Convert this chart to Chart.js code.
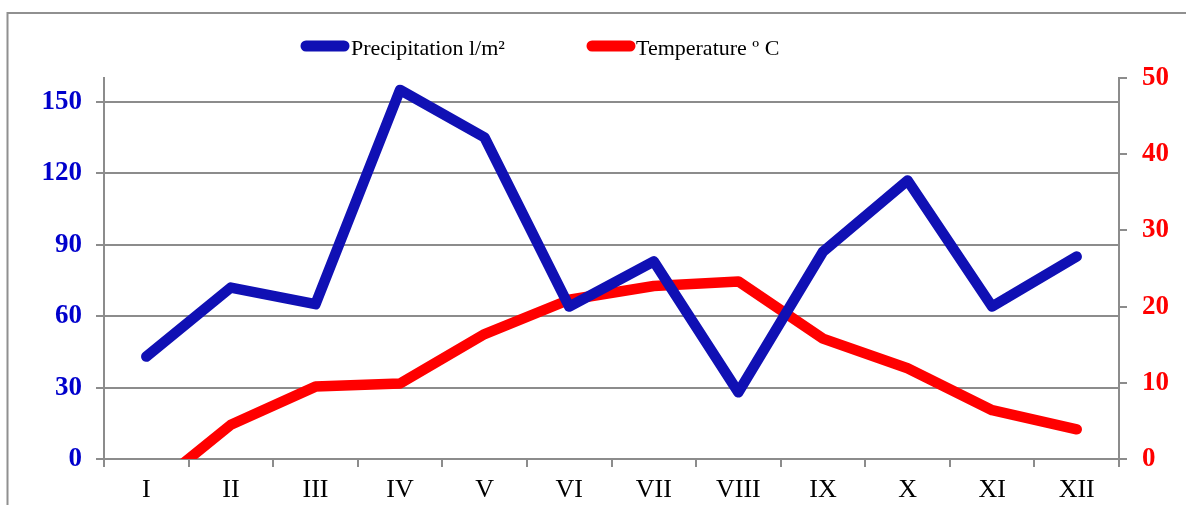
<!DOCTYPE html>
<html>
<head>
<meta charset="utf-8">
<script src="https://cdn.jsdelivr.net/npm/chart.js@4.4.1/dist/chart.umd.min.js"></script>
<style>
  html, body { margin: 0; padding: 0; background: #fff; }
  #wrap { width: 1186px; height: 505px; position: relative; }
</style>
</head>
<body>
<div id="wrap"><canvas id="c"></canvas></div>
<script>
const months = ['I', 'II', 'III', 'IV', 'V', 'VI', 'VII', 'VIII', 'IX', 'X', 'XI', 'XII'];
const precipitation = [43, 72, 65, 155, 135, 64, 83, 28, 87, 117, 64, 85];
const temperature = [-4.5, 4.5, 9.5, 9.9, 16.4, 20.9, 22.7, 23.3, 15.8, 11.9, 6.4, 3.9];
const seriesNames = ['Precipitation l/m²', 'Temperature º C'];
const leftTicks = [0, 30, 60, 90, 120, 150];
const rightTicks = [0, 10, 20, 30, 40, 50];

const GRAY = '#8c8c8c';
const BLUE = '#1010b4';
const RED = '#ff0000';
const SERIF = '"Liberation Serif", "Times New Roman", serif';

const frame = {
  id: 'frame',
  beforeDraw(chart) {
    const ctx = chart.ctx;
    ctx.save();
    ctx.strokeStyle = '#909090';
    ctx.lineWidth = 2;
    ctx.beginPath();
    ctx.moveTo(7.5, 505);
    ctx.lineTo(7.5, 13);
    ctx.lineTo(1186, 13);
    ctx.stroke();
    ctx.restore();
  }
};

const customLegend = {
  id: 'customLegend',
  afterDraw(chart) {
    const ctx = chart.ctx;
    const items = [
      { x: 301, tx: 351, color: BLUE, text: seriesNames[0] },
      { x: 587, tx: 636, color: RED, text: seriesNames[1] }
    ];
    ctx.save();
    ctx.font = '22px ' + SERIF;
    ctx.textBaseline = 'alphabetic';
    ctx.textAlign = 'left';
    items.forEach(it => {
      ctx.strokeStyle = it.color;
      ctx.lineWidth = 11;
      ctx.lineCap = 'round';
      ctx.beginPath();
      ctx.moveTo(it.x + 5, 46);
      ctx.lineTo(it.x + 43, 46);
      ctx.stroke();
      ctx.fillStyle = '#000';
      ctx.fillText(it.text, it.tx, 55);
    });
    ctx.restore();
  }
};

new Chart(document.getElementById('c'), {
  type: 'line',
  data: {
    labels: months,
    datasets: [
      {
        label: seriesNames[0],
        data: precipitation,
        yAxisID: 'y',
        borderColor: BLUE,
        backgroundColor: BLUE,
        borderWidth: 10.5,
        borderCapStyle: 'round',
        borderJoinStyle: 'round',
        pointRadius: 0,
        tension: 0,
        clip: 0
      },
      {
        label: seriesNames[1],
        data: temperature,
        yAxisID: 'y1',
        borderColor: RED,
        backgroundColor: RED,
        borderWidth: 10.5,
        borderCapStyle: 'round',
        borderJoinStyle: 'round',
        pointRadius: 0,
        tension: 0,
        clip: 0
      }
    ]
  },
  options: {
    responsive: true,
    maintainAspectRatio: false,
    devicePixelRatio: 1,
    animation: false,
    layout: { padding: { top: 78, left: 0, right: 0, bottom: 0 } },
    plugins: {
      legend: { display: false },
      tooltip: { enabled: false }
    },
    scales: {
      x: {
        offset: true,
        afterFit(s) { s.height = 46; },
        grid: {
          display: true,
          drawOnChartArea: false,
          drawTicks: true,
          tickLength: 8,
          offset: true,
          color: GRAY,
          lineWidth: 2
        },
        border: { display: true, color: GRAY, width: 2 },
        ticks: {
          color: '#000',
          font: { family: SERIF, size: 26 },
          padding: 8,
          maxRotation: 0,
          autoSkip: false
        }
      },
      y: {
        position: 'left',
        min: 0,
        max: 160,
        afterFit(s) { s.width = 104; },
        afterBuildTicks(s) { s.ticks = leftTicks.map(v => ({ value: v })); },
        grid: {
          color: GRAY,
          lineWidth: 2,
          drawTicks: true,
          tickLength: 8
        },
        border: { display: true, color: GRAY, width: 2 },
        ticks: {
          color: '#0000cc',
          font: { family: SERIF, size: 27, weight: 'bold' },
          padding: 14
        }
      },
      y1: {
        position: 'right',
        min: 0,
        max: 50,
        afterFit(s) { s.width = 67; },
        afterBuildTicks(s) { s.ticks = rightTicks.map(v => ({ value: v })); },
        grid: {
          drawOnChartArea: false,
          color: GRAY,
          lineWidth: 2,
          drawTicks: true,
          tickLength: 8
        },
        border: { display: true, color: GRAY, width: 2 },
        ticks: {
          color: RED,
          font: { family: SERIF, size: 27, weight: 'bold' },
          padding: 15
        }
      }
    }
  },
  plugins: [frame, customLegend]
});
</script>
</body>
</html>
